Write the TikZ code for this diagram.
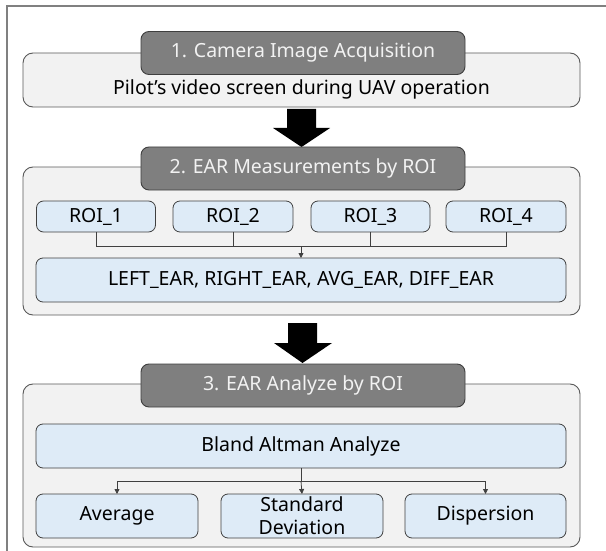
\documentclass[tikz,border=0pt]{standalone}
\usepackage{fontspec}
\setmainfont{Noto Sans}
\usetikzlibrary{arrows.meta}
\definecolor{outerfill}{HTML}{F2F2F2}
\definecolor{outerdraw}{HTML}{595959}
\definecolor{headfill}{HTML}{7F7F7F}
\definecolor{headdraw}{HTML}{3F3F3F}
\definecolor{headtext}{HTML}{F2F2F2}
\definecolor{innerfill}{HTML}{DEEBF7}
\definecolor{innerdraw}{HTML}{404040}
\definecolor{framecol}{HTML}{808080}
\begin{document}
\begin{tikzpicture}[x=1pt,y=-1pt,
  every node/.style={inner sep=0pt,outer sep=0pt,font=\fontsize{19.5}{23}\selectfont},
  outerbox/.style={draw=outerdraw,fill=outerfill,rounded corners=10pt,line width=0.9pt},
  headbox/.style={draw=headdraw,fill=headfill,text=headtext,rounded corners=8pt,line width=0.9pt,minimum width=324pt,minimum height=43pt},
  innerbox/.style={draw=innerdraw,fill=innerfill,rounded corners=7pt,line width=0.8pt,text=black},
  conn/.style={draw=innerdraw,line width=0.8pt},
  connarrow/.style={conn,-{Triangle[length=5pt,width=5pt]}},
  blockarrow/.style={fill=black,draw=none}
]
\useasboundingbox (0,0) rectangle (606,551);
\fill[white] (0,0) rectangle (606,551);
% frame
\draw[framecol,line width=1.5pt] (606,6) -- (7,6) -- (7,551);

% block 1
\node[outerbox,minimum width=557pt,minimum height=54pt] (box1) at (301.5,80) {};
\node[headbox] (head1) at (303,53) {1. Camera Image Acquisition};
\node (box1t) at (301.5,89.5) {Pilot{\char"27}s video screen during UAV operation};

% arrow 1
\fill[blockarrow] (287,109) -- (316,109) -- (316,128) -- (330,128) -- (301.5,147) -- (273,128) -- (287,128) -- cycle;

% block 2
\node[outerbox,minimum width=557pt,minimum height=148pt] (box2) at (301.5,241) {};
\node[headbox] (head2) at (303,168.5) {2. EAR Measurements by ROI};
\node[innerbox,minimum width=119pt,minimum height=31pt] (roi1) at (96,216.5) {ROI\_1};
\node[innerbox,minimum width=120pt,minimum height=31pt] (roi2) at (233,216.5) {ROI\_2};
\node[innerbox,minimum width=119pt,minimum height=31pt] (roi3) at (370.5,216.5) {ROI\_3};
\node[innerbox,minimum width=120pt,minimum height=31pt] (roi4) at (506,216.5) {ROI\_4};
\node[innerbox,minimum width=530pt,minimum height=44pt] (ear) at (301,280) {LEFT\_EAR, RIGHT\_EAR, AVG\_EAR, DIFF\_EAR};
\coordinate (j2) at (301,246);
\draw[conn] (roi1.south) |- (j2);
\draw[conn] (roi4.south) |- (j2);
\draw[conn] (roi2.south) |- (j2);
\draw[conn] (roi3.south) |- (j2);
\draw[connarrow] (j2) -- (ear.north);

% arrow 2
\fill[blockarrow] (288,323) -- (317,323) -- (317,343) -- (332,343) -- (302.5,363) -- (274,343) -- (288,343) -- cycle;

% block 3
\node[outerbox,minimum width=557pt,minimum height=163pt] (box3) at (301.5,465.5) {};
\node[headbox] (head3) at (303,385.5) {3. EAR Analyze by ROI};
\node[innerbox,minimum width=530pt,minimum height=44pt] (bland) at (301,446) {Bland Altman Analyze};
\node[innerbox,minimum width=162pt,minimum height=44pt] (avg) at (117,516) {Average};
\node[innerbox,minimum width=162pt,minimum height=44pt,align=center,font=\fontsize{19.5}{23}\selectfont] (std) at (302,516) {Standard\\Deviation};
\node[innerbox,minimum width=161pt,minimum height=44pt] (disp) at (485.5,516) {Dispersion};
\coordinate (j3) at (301,481);
\draw[conn] (bland.south) -- (j3);
\draw[connarrow] (j3) -| (avg.north);
\draw[connarrow] (j3) -| (disp.north);
\draw[connarrow] (j3) -- (std.north);
\end{tikzpicture}
\end{document}
